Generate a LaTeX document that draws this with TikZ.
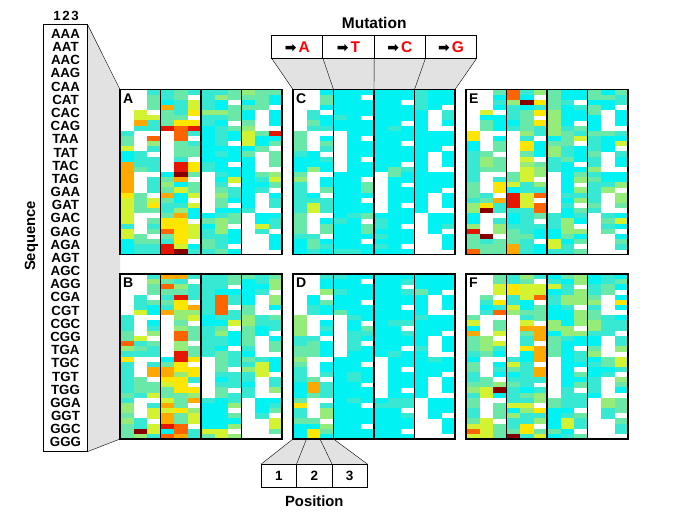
\documentclass[tikz,border=0pt]{standalone}
\usepackage{fontspec}
\setmainfont{Liberation Sans}
\newfontfamily\arrowfont{DejaVu Sans}
\usetikzlibrary{calc,backgrounds}

\definecolor{hm0}{RGB}{0,242,242}
\definecolor{hm1}{RGB}{55,232,210}
\definecolor{hm2}{RGB}{105,232,170}
\definecolor{hm3}{RGB}{150,236,120}
\definecolor{hm4}{RGB}{210,242,50}
\definecolor{hm5}{RGB}{255,230,0}
\definecolor{hm6}{RGB}{255,168,0}
\definecolor{hm7}{RGB}{255,100,0}
\definecolor{hm8}{RGB}{228,22,0}
\definecolor{hm9}{RGB}{135,0,0}
\definecolor{wedge}{RGB}{226,226,226}

\newcommand{\heatc}{\def\hta{0.86}\def\htb{0.965}\def\htc{0.992}\def\htd{0.998}\def\hte{2}\def\htf{2}\def\htg{2}\def\hth{2}\def\hti{2}}
\newcommand{\heatm}{\def\hta{0.3}\def\htb{0.62}\def\htc{0.82}\def\htd{0.91}\def\hte{0.955}\def\htf{0.975}\def\htg{0.99}\def\hth{0.996}\def\hti{0.999}}
\newcommand{\heatw}{\def\hta{0.1}\def\htb{0.4}\def\htc{0.62}\def\htd{0.74}\def\hte{0.84}\def\htf{0.91}\def\htg{0.955}\def\hth{0.982}\def\hti{0.994}}
\newcommand{\heath}{\def\hta{0.08}\def\htb{0.3}\def\htc{0.48}\def\htd{0.6}\def\hte{0.72}\def\htf{0.82}\def\htg{0.9}\def\hth{0.95}\def\hti{0.98}}

\begin{document}
\begin{tikzpicture}[x=1pt,y=-1pt,
    panel/.style={draw,line width=1.1pt,minimum width=162pt,minimum height=165pt,anchor=north west,inner sep=0pt,outer sep=0pt},
    plabel/.style={anchor=north west,inner sep=0pt,font=\fontsize{14}{14}\selectfont\bfseries},
    mutbox/.style={draw,line width=1pt,minimum width=51.25pt,minimum height=23.3pt,inner sep=0pt,outer sep=0pt,font=\fontsize{15.5}{15.5}\selectfont\bfseries},
    posbox/.style={draw,line width=1pt,minimum width=35.4pt,minimum height=23.3pt,inner sep=0pt,outer sep=0pt,font=\fontsize{13.5}{13.5}\selectfont\bfseries},
    codon/.style={inner sep=0pt,font=\fontsize{13.3}{13.3}\selectfont\bfseries},
    title/.style={inner sep=0pt,font=\fontsize{14.8}{15}\selectfont\bfseries}]
    \useasboundingbox (0,0) rectangle (675,520);
    \pgfmathsetseed{2718}

    \foreach \px/\py/\lab/\ka/\kb/\kc/\kd in {120/89.5/A/w/h/m/m,120/274/B/w/h/m/m,293/89.5/C/m/c/c/c,293/274/D/m/c/c/c,466/89.5/E/w/w/m/m,466/274/F/w/w/m/m}{
        \foreach \grp/\cls in {0/\ka,1/\kb,2/\kc,3/\kd}{
            \csname heat\cls\endcsname
            \foreach \col in {0,1,2}{
                \xdef\lastlv{-1}
                \foreach \row in {0,...,31}{
                    \pgfmathtruncatemacro{\blank}{(\col==0 && int(\row/8)==\grp) || (\col==1 && ((\grp==0 && mod(int(\row/4),2)==0) || (\grp==3 && mod(int(\row/4),2)==1))) || (\col==2 && mod(\row,4)==\grp && \row>0)}
                    \ifnum\blank=0
                        \pgfmathsetmacro{\u}{rnd}
                        \pgfmathtruncatemacro{\lv}{(\u>\hta)+(\u>\htb)+(\u>\htc)+(\u>\htd)+(\u>\hte)+(\u>\htf)+(\u>\htg)+(\u>\hth)+(\u>\hti)}
                        \pgfmathtruncatemacro{\keep}{(rnd<0.3) && (\lastlv>=0)}
                        \ifnum\keep=1 \let\lv\lastlv \fi
                        \xdef\lastlv{\lv}
                        \fill[hm\lv] (\px+40.5*\grp+13.5*\col,\py+5.156*\row) rectangle ++(13.8,5.4);
                    \fi
                }
            }
        }
        \node[panel] (\lab) at (\px,\py) {};
        \foreach \k in {1,2,3}
            \draw[line width=1.1pt] ($(\lab.north west)!\k/4!(\lab.north east)$) -- ($(\lab.south west)!\k/4!(\lab.south east)$);
        \node[plabel] (\lab-lab) at (\px+3,\py+4) {\lab};
    }

    \node[draw,line width=1pt,minimum width=44pt,minimum height=427.7pt,inner sep=0pt,outer sep=0pt] (seq) at (65.3,237.85) {};
    \foreach \c [count=\i from 0] in {AAA,AAT,AAC,AAG,CAA,CAT,CAC,CAG,TAA,TAT,TAC,TAG,GAA,GAT,GAC,GAG,AGA,AGT,AGC,AGG,CGA,CGT,CGC,CGG,TGA,TGC,TGT,TGG,GGA,GGT,GGC,GGG}
        \node[codon] (cod\i) at (65.5,33.8+13.18*\i) {\c};
    \node[codon] (digits) at (66,16.2) {1\hspace{1.6pt}2\hspace{1.6pt}3};
    \node[title,rotate=90] (seqlab) at (31.5,236) {Sequence};

    \foreach \b [count=\i from 0] in {A,T,C,G}
        \node[mutbox] (m\b) at (297.3+51.25*\i,46.7) {{\arrowfont\fontsize{14}{14}\selectfont ➡}\hspace{2pt}\textcolor{red}{\b}};
    \node[title,font=\fontsize{15.5}{15.5}\selectfont\bfseries] (mutlab) at (374.2,23.3) {Mutation};

    \foreach \n [count=\i from 0] in {1,2,3}
        \node[posbox] (p\n) at (278.9+35.4*\i,475.7) {\n};
    \node[title] (poslab) at (314.3,501) {Position};

    \begin{scope}[on background layer]
        \fill[wedge] (seq.north east) -- (A.north west) -- (B.south west) -- (seq.south east) -- cycle;
        \fill[wedge] (mA.south west) -- (mG.south east) -- (C.north east) -- (C.north west) -- cycle;
        \fill[wedge] (D.south west) -- ($(D.south west)!0.25!(D.south east)$) -- (p3.north east) -- (p1.north west) -- cycle;
    \end{scope}

    \draw (seq.north east) -- (A.north west);
    \draw (seq.south east) -- (B.south west);
    \draw (mA.south west) -- (C.north west);
    \draw (mA.south east) -- ($(C.north west)!0.25!(C.north east)$);
    \draw (mT.south east) -- ($(C.north west)!0.5!(C.north east)$);
    \draw (mC.south east) -- ($(C.north west)!0.75!(C.north east)$);
    \draw (mG.south east) -- (C.north east);
    \draw (D.south west) -- (p1.north west);
    \draw ($(D.south west)!1/12!(D.south east)$) -- (p1.north east);
    \draw ($(D.south west)!2/12!(D.south east)$) -- (p2.north east);
    \draw ($(D.south west)!3/12!(D.south east)$) -- (p3.north east);
\end{tikzpicture}
\end{document}
